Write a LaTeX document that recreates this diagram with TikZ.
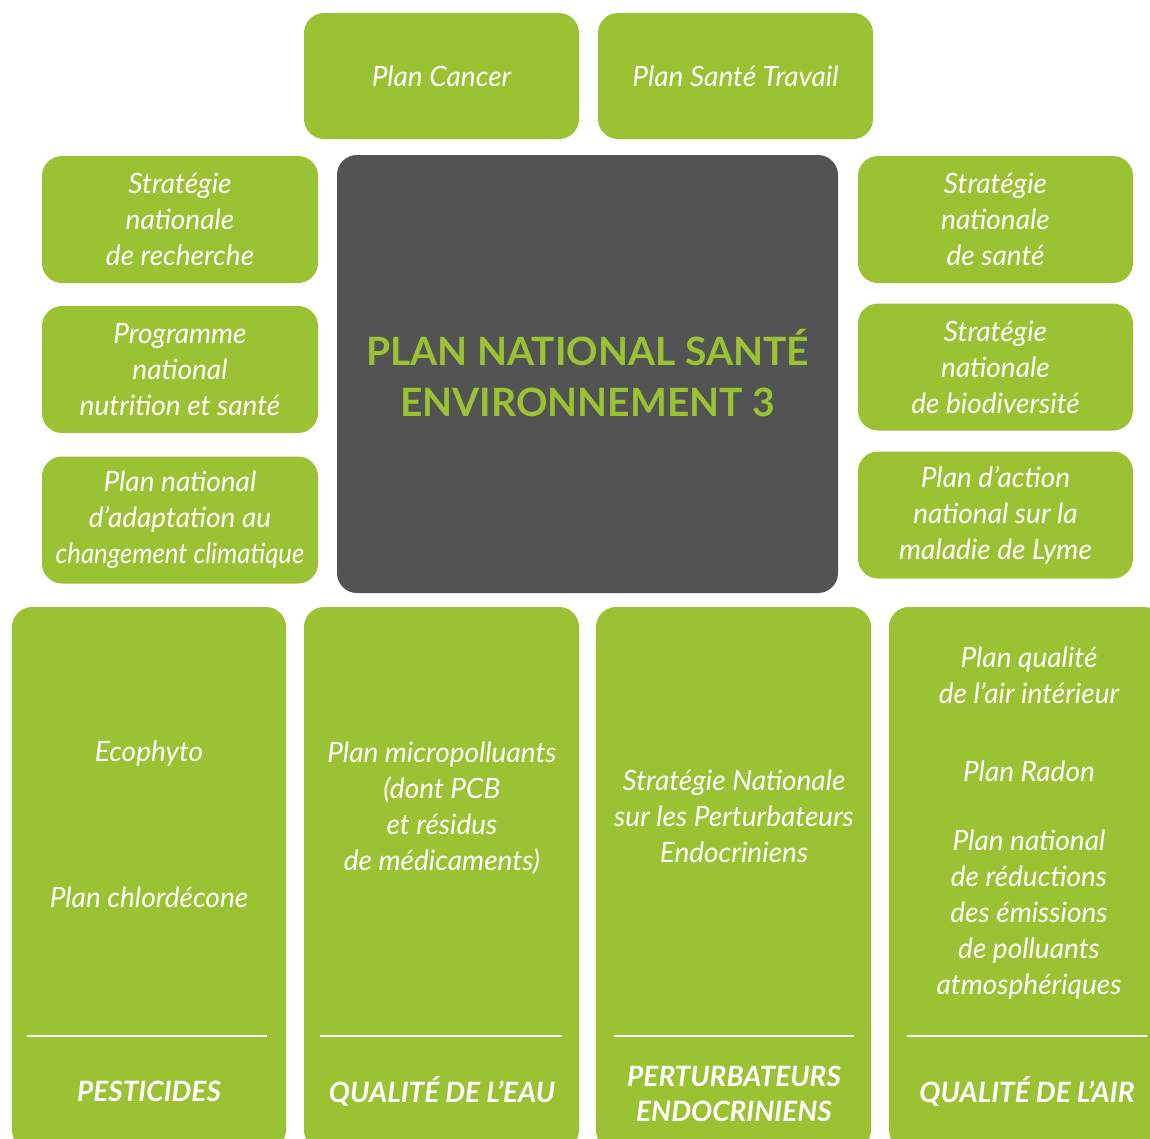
\documentclass[tikz,border=0pt]{standalone}
\usepackage{fontspec}
\setmainfont{Lato}
\definecolor{pgreen}{RGB}{155,194,50}
\definecolor{pdark}{RGB}{82,84,83}
\begin{document}
\begin{tikzpicture}[x=1pt,y=-1pt,
  gbox/.style={fill=pgreen, draw=none, rounded corners=20pt, inner sep=0pt},
  dbox/.style={fill=pdark, draw=none, rounded corners=20pt, inner sep=0pt},
  txt/.style={text=white, font=\fontsize{28}{36}\selectfont\itshape, align=center, inner sep=0pt},
  lbl/.style={text=white, font=\fontsize{28}{35}\selectfont\bfseries\itshape, align=center, inner sep=0pt},
  ttl/.style={text=pgreen, font=\fontsize{39}{51}\selectfont\bfseries, align=center, inner sep=0pt},
  sepline/.style={draw=white, line width=1.2pt}]
\useasboundingbox (0,0) rectangle (1150,1138);
\clip (0,0) rectangle (1150,1138);
% top
\node[gbox, minimum width=275pt, minimum height=126pt] (cancer) at (441.5,76) {};
\node[txt] (tcancer) at (cancer.center) {Plan Cancer};
\node[gbox, minimum width=275pt, minimum height=126pt] (travail) at (735.5,76) {};
\node[txt] (ttravail) at (travail.center) {Plan Santé Travail};
% centre
\node[dbox, minimum width=501pt, minimum height=438pt] (pnse) at (587.5,374) {};
\node[ttl] (tpnse) at (587.5,373) {PLAN NATIONAL SANTÉ\\ENVIRONNEMENT 3};
% left column
\node[gbox, minimum width=276pt, minimum height=127pt] (l1) at (180,219.5) {};
\node[txt] (tl1) at (l1.center) {Stratégie\\nationale\\de recherche};
\node[gbox, minimum width=276pt, minimum height=127pt] (l2) at (180,369.5) {};
\node[txt] (tl2) at (l2.center) {Programme\\national\\nutrition et santé};
\node[gbox, minimum width=276pt, minimum height=127pt] (l3) at (180,520) {};
\node[txt] (tl3) at (l3.center) {Plan national\\d’adaptation au\\\scalebox{0.92}[1]{changement climatique}};
% right column
\node[gbox, minimum width=275pt, minimum height=127pt] (r1) at (995.5,219.5) {};
\node[txt] (tr1) at (r1.center) {Stratégie\\nationale\\de santé};
\node[gbox, minimum width=275pt, minimum height=127pt] (r2) at (995.5,367) {};
\node[txt] (tr2) at (r2.center) {Stratégie\\nationale\\de biodiversité};
\node[gbox, minimum width=275pt, minimum height=127pt] (r3) at (995.5,515) {};
\node[txt] (tr3) at (r3.center) {Plan d’action\\national sur la\\maladie de Lyme};
% bottom columns
\node[gbox, minimum width=274pt, minimum height=543pt] (b1) at (149,878.5) {};
\node[gbox, minimum width=275pt, minimum height=543pt] (b2) at (441.5,878.5) {};
\node[gbox, minimum width=275pt, minimum height=543pt] (b3) at (733.5,878.5) {};
\node[gbox, minimum width=275pt, minimum height=543pt] (b4) at (1026.5,878.5) {};
% bottom texts
\node[txt] (eco) at (149,754) {Ecophyto};
\node[txt] (chlor) at (149,897) {Plan chlordécone};
\node[txt] (micro) at (442,808) {Plan micropolluants\\(dont PCB\\et résidus\\de médicaments)};
\node[txt] (snpe) at (734,816) {Stratégie Nationale\\sur les Perturbateurs\\Endocriniens};
\node[txt] (qai) at (1029,675.5) {Plan qualité\\de l’air intérieur};
\node[txt] (radon) at (1029,771) {Plan Radon};
\node[txt] (prepa) at (1029,914.5) {Plan national\\de réductions\\des émissions\\de polluants\\atmosphériques};
% separators
\draw[sepline] (27,1036) -- (267,1036);
\draw[sepline] (320,1036) -- (562,1036);
\draw[sepline] (614,1036) -- (854,1036);
\draw[sepline] (907,1036) -- (1147,1036);
% labels
\node[lbl] (lp) at (149,1091) {PESTICIDES};
\node[lbl] (le) at (442,1091) {QUALITÉ DE L’EAU};
\node[lbl] (lpe) at (734,1093.5) {PERTURBATEURS\\ENDOCRINIENS};
\node[lbl] (la) at (1027,1091) {QUALITÉ DE L’AIR};
\end{tikzpicture}
\end{document}
